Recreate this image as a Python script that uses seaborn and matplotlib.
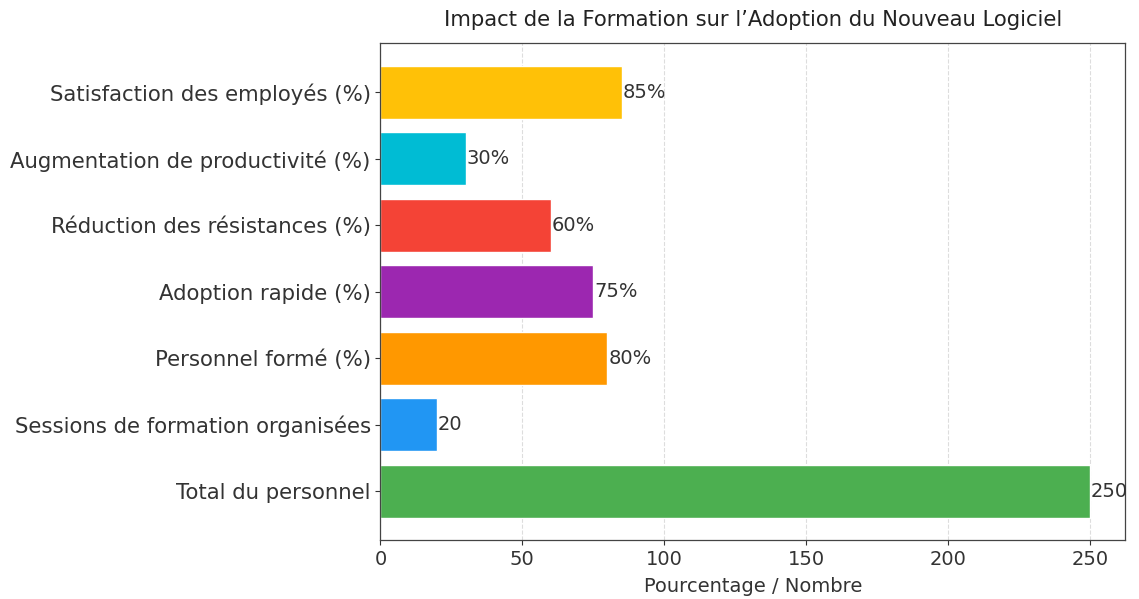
import matplotlib
matplotlib.use("Agg")
import matplotlib.pyplot as plt
import seaborn as sns
import pandas as pd

categories = [
    "Satisfaction des employés (%)",
    "Augmentation de productivité (%)",
    "Réduction des résistances (%)",
    "Adoption rapide (%)",
    "Personnel formé (%)",
    "Sessions de formation organisées",
    "Total du personnel",
]
values = [85, 30, 60, 75, 80, 20, 250]
value_labels = ["85%", "30%", "60%", "75%", "80%", "20", "250"]
colors = ["#FFC107", "#00BCD4", "#F44336", "#9C27B0", "#FF9800", "#2196F3", "#4CAF50"]

sns.set_style("white")
plt.rcParams["font.family"] = ["DejaVu Sans"]

df = pd.DataFrame({"categorie": categories, "valeur": values})

fig, ax = plt.subplots(figsize=(11.39, 5.99), dpi=100)
sns.barplot(data=df, y="categorie", x="valeur", hue="categorie",
            palette=colors, orient="h", width=0.8, legend=False,
            saturation=1, ax=ax)

for patch, lab in zip(ax.patches, value_labels):
    ax.text(patch.get_width() + 0.3, patch.get_y() + patch.get_height() / 2,
            lab, va="center", ha="left", fontsize=14, color="#333333")

ax.set_xlim(0, 262.5)
ax.set_ylim(6.74, -0.74)
ax.set_ylabel("")
ax.set_xlabel("Pourcentage / Nombre", fontsize=14, color="#333333", labelpad=6)
ax.set_title("Impact de la Formation sur l\u2019Adoption du Nouveau Logiciel",
             fontsize=15.2, color="#222222", pad=12)
ax.tick_params(axis="both", labelsize=15.3, colors="#333333", length=3.5,
               left=True, bottom=True)
ax.tick_params(axis="x", labelsize=14)
ax.xaxis.grid(True, linestyle="--", color="#dddddd", linewidth=0.8)
ax.set_axisbelow(True)
for s in ax.spines.values():
    s.set_color("#444444")
    s.set_linewidth(0.9)

fig.subplots_adjust(left=0.334, right=0.988, top=0.928, bottom=0.098)
fig.savefig("out.png", dpi=100)
